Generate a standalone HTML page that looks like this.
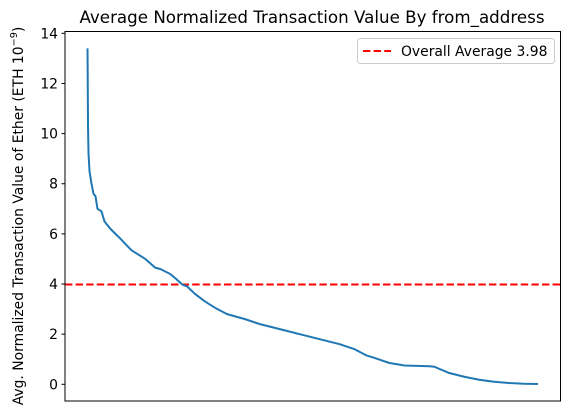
<!DOCTYPE html>
<html><head><meta charset="utf-8"><style>
body{margin:0;background:#fff;}
svg{font-family:"DejaVu Sans","Liberation Sans",sans-serif;}
</style></head><body>
<svg id="chart" width="570" height="411" viewBox="0 0 570 411" xmlns="http://www.w3.org/2000/svg">
<text x="312" y="23" font-size="16.7" text-anchor="middle" fill="#000">Average Normalized Transaction Value By from_address</text>
<text transform="translate(23,216) rotate(-90)" font-size="13.9" text-anchor="middle" fill="#000">Avg. Normalized Transaction Value of Ether (ETH 10<tspan dy="-6" font-size="9.7">−9</tspan><tspan dy="6">)</tspan></text>
<g id="yticks"></g>
<path id="avgline" fill="none" stroke="#ff0000" stroke-width="2" stroke-dasharray="7.4,3.2"/>
<path id="series" fill="none" stroke="#1f77b4" stroke-width="2" stroke-linejoin="round"/>
<rect x="65" y="31.5" width="495.5" height="369.5" fill="none" stroke="#000" stroke-width="1"/>
<g>
<rect x="357.5" y="38.5" width="197" height="25" rx="3" fill="#fff" fill-opacity="0.8" stroke="#ccc"/>
<line x1="363" y1="51" x2="391" y2="51" stroke="#ff0000" stroke-width="2" stroke-dasharray="7.4,3.2"/>
<text x="401" y="56" font-size="13.9" fill="#000">Overall Average 3.98</text>
</g>
</svg>
<script>
const ranks=[0,0.5,1,2,4,6,8,10,14,17,23,28,32,38,44,48,58,68,73,83,89,95,100,108,118,128,140,158,173,193,213,233,253,268,280,288,303,318,343,348,363,378,393,408,423,438,452];
const values=[13.4,10.3,9.2,8.5,8.0,7.6,7.5,7.0,6.9,6.5,6.2,6.0,5.85,5.6,5.35,5.25,5.0,4.65,4.6,4.4,4.2,3.98,3.9,3.6,3.3,3.05,2.8,2.6,2.4,2.2,2.0,1.8,1.6,1.4,1.15,1.05,0.85,0.75,0.72,0.7,0.45,0.3,0.18,0.1,0.05,0.02,0.01];
const yTickValues=[0,2,4,6,8,10,12,14];
const yTickLabels=["0","2","4","6","8","10","12","14"];
const overallAverage=3.98;
const NS="http://www.w3.org/2000/svg";
const L=65,R=560.5,T=31.5,B=401;
const rmin=Math.min(...ranks),rmax=Math.max(...ranks),rm=(rmax-rmin)*0.05;
const xs=r=>L+(r-(rmin-rm))/((rmax+rm)-(rmin-rm))*(R-L);
const ys=v=>384.3-v*25.07;
let d="";
ranks.forEach((r,i)=>{d+=(i?"L":"M")+xs(r).toFixed(2)+","+ys(values[i]).toFixed(2);});
document.getElementById("series").setAttribute("d",d);
document.getElementById("avgline").setAttribute("d","M"+L+","+ys(overallAverage)+"H"+R);
const g=document.getElementById("yticks");
yTickValues.forEach((v,i)=>{
 const y=ys(v);
 const ln=document.createElementNS(NS,"line");
 
 
 ln.setAttribute("x1",L-3.5);ln.setAttribute("x2",L);ln.setAttribute("y1",y);ln.setAttribute("y2",y);
 ln.setAttribute("stroke","#000");g.appendChild(ln);
 const t=document.createElementNS(NS,"text");
 
 
 t.setAttribute("x",L-7);t.setAttribute("y",y+5);t.setAttribute("text-anchor","end");
 t.setAttribute("font-size","13.9");t.textContent=yTickLabels[i];g.appendChild(t);
});
</script>
</body></html>
